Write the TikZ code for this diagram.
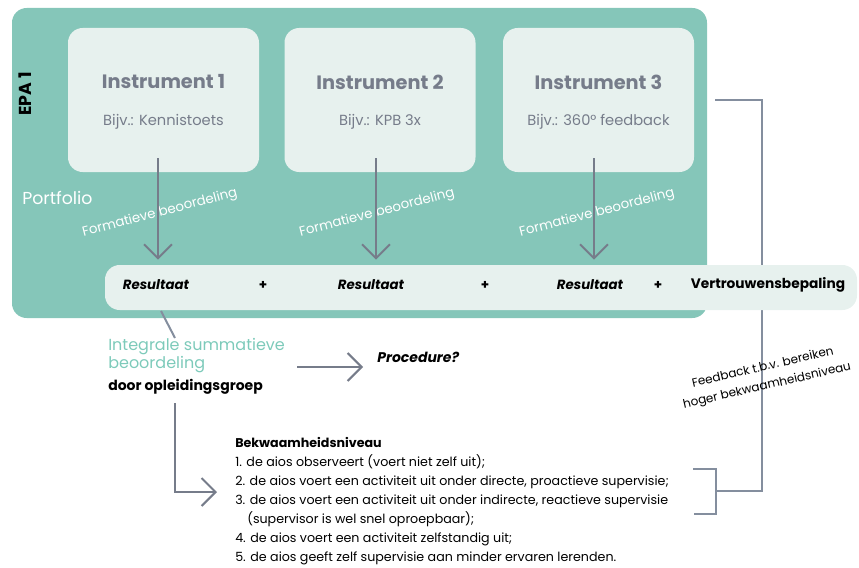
\documentclass[tikz,border=0pt]{standalone}
\usepackage{fontspec}
\setmainfont{Poppins}
\usetikzlibrary{arrows.meta}
\definecolor{epateal}{RGB}{133,198,185}
\definecolor{paleteal}{RGB}{231,241,238}
\definecolor{slategray}{RGB}{118,124,138}
\definecolor{linegray}{RGB}{132,142,158}
\definecolor{tealtext}{RGB}{125,202,186}

\begin{document}
\begin{tikzpicture}[x=0.75pt,y=0.75pt,yscale=-1,xscale=1,
  pale/.style={fill=paleteal, rounded corners=11pt, inner sep=0pt},
  instr/.style={pale, minimum width=143.25pt, minimum height=108pt},
  titel/.style={font=\fontsize{14.5}{16}\selectfont\bfseries, text=slategray},
  voorbeeld/.style={font=\fontsize{11}{13}\selectfont, text=slategray},
  formatief/.style={font=\fontsize{10}{12}\selectfont, text=white, rotate=14.5},
  pijl/.style={draw=slategray, line width=1.5pt, -{Straight Barb[length=10.5pt,width=21pt,line width=1.5pt]}},
  lijn/.style={draw=linegray, line width=1.5pt},
  uitslag/.style={font=\fontsize{10}{12}\selectfont\bfseries\itshape},
]
\useasboundingbox (0,0) rectangle (859,567);

% EPA blok
\fill[epateal, rounded corners=11pt] (12,8) rectangle (707,318);
\node[rotate=90, font=\fontsize{13}{15}\selectfont\bfseries] (epa) at (25,94) {EPA 1};
\node[anchor=west, inner sep=0pt, font=\fontsize{13}{15}\selectfont, text=white] (portfolio) at (22,198) {Portfolio};

% Instrumenten
\node[instr] (inst1) at (163.5,100) {};
\node[instr] (inst2) at (380,100) {};
\node[instr] (inst3) at (598.5,100) {};
\node[titel] (titel1) at (163.5,82) {Instrument 1};
\node[titel] (titel2) at (380,82) {Instrument 2};
\node[titel] (titel3) at (598.5,82) {Instrument 3};
\node[voorbeeld] (vb1) at (163.5,122) {Bijv.: Kennistoets};
\node[voorbeeld] (vb2) at (380,122) {Bijv.: KPB 3x};
\node[voorbeeld] (vb3) at (598.5,122) {Bijv.: 360° feedback};

% Feedback lijn (achter de balk)
\coordinate (fbstart) at (715,100);
\coordinate (haak) at (716,491);
\coordinate (haakboven) at (693,469);
\coordinate (haakonder) at (694,514);
\draw[lijn] (fbstart) -| ([xshift=34.5pt]haak) -- (haak);
\draw[lijn] (haakboven) -| (haak) |- (haakonder);

% Resultaten balk
\node[pale, minimum width=564pt, minimum height=33.75pt] (bar) at (481,287.5) {};
\node[uitslag] (res1) at (156,285) {Resultaat};
\node[font=\bfseries] (plus1) at (263,285) {+};
\node[uitslag] (res2) at (371,285) {Resultaat};
\node[font=\bfseries] (plus2) at (485,285) {+};
\node[uitslag] (res3) at (590,285) {Resultaat};
\node[font=\bfseries] (plus3) at (658,285) {+};
\node[font=\fontsize{10.3}{12}\selectfont\bfseries] (vertrouwen) at (768,285) {Vertrouwensbepaling};

% Formatieve beoordeling
\node[formatief] (form1) at (160,213) {Formatieve beoordeling};
\node[formatief] (form2) at (377,213) {Formatieve beoordeling};
\node[formatief] (form3) at (597,213) {Formatieve beoordeling};
\coordinate (a1) at (158,158);
\coordinate (a2) at (376,158);
\coordinate (a3) at (594,158);
\foreach \i in {1,2,3}
  \draw[pijl, shorten >=3.75pt] (a\i) -- (a\i |- bar.north);

% Summatieve beoordeling
\node[anchor=west, align=left, inner sep=0pt, text=tealtext,
  font=\fontsize{12}{13.5}\selectfont] (integraal) at (108,356) {Integrale summatieve\\beoordeling};
\node[anchor=west, inner sep=0pt, font=\fontsize{10.5}{12}\selectfont\bfseries] (groep) at (108,387) {door opleidingsgroep};
\coordinate (d1) at (161,311);
\coordinate (d2) at (175,338);
\draw[lijn] (d1) -- (d2);

\node[anchor=west, inner sep=0pt, font=\fontsize{10.5}{12}\selectfont\bfseries\itshape] (procedure) at (377,357) {Procedure?};
\coordinate (p1) at (297,367);
\draw[pijl, shorten >=10.5pt] (p1) -- (p1 -| procedure.west);

% Bekwaamheidsniveau
\coordinate (o1) at (175,403);
\coordinate (o2) at (217,492);
\draw[pijl] (o1) |- (o2);
\node[anchor=north west, align=left, inner sep=0pt,
  font=\fontsize{9.5}{14.3}\selectfont] (niveau) at (235,437) {%
  \textbf{Bekwaamheidsniveau}\\
  1. de aios observeert (voert niet zelf uit);\\
  2. de aios voert een activiteit uit onder directe, proactieve supervisie;\\
  3. de aios voert een activiteit uit onder indirecte, reactieve supervisie\\
  \hspace*{9pt}(supervisor is wel snel oproepbaar);\\
  4. de aios voert een activiteit zelfstandig uit;\\
  5. de aios geeft zelf supervisie aan minder ervaren lerenden.};

\node[rotate=13, align=center, font=\fontsize{9}{14}\selectfont] (feedback) at (765,377) {Feedback t.b.v. bereiken\\hoger bekwaamheidsniveau};

\end{tikzpicture}
\end{document}
